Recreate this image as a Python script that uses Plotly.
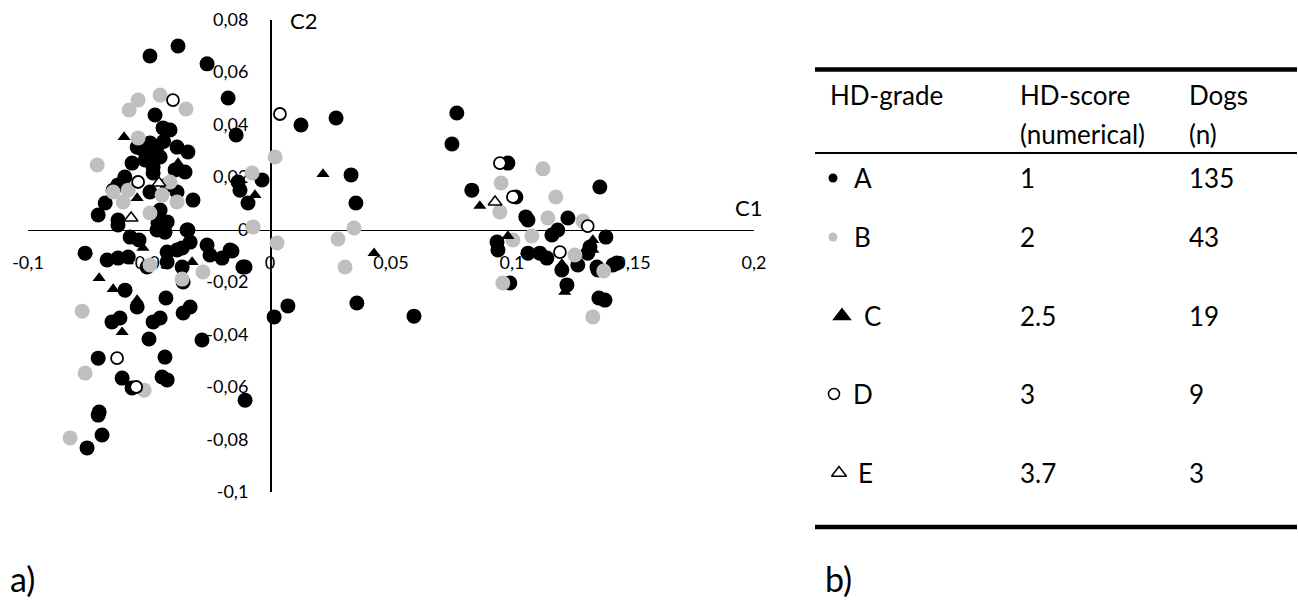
import plotly.graph_objects as go

W, H = 1298, 608
FONT = "Lato"

# ---------------- scatter data (C1, C2) ----------------
a_x = [-0.0496, -0.0380, -0.0260, -0.0173, -0.0140, -0.0475, -0.0442, -0.0413,
       -0.0549, -0.0496, -0.0467, -0.0384, -0.0339, -0.0454, -0.0487, -0.0570,
       -0.0483, -0.0392, -0.0351, -0.0483, -0.0628, -0.0648, -0.0496, -0.0384,
       -0.0318, -0.0681, -0.0710, -0.0628, -0.0454, -0.0463, -0.0425, -0.0339,
       -0.0628, -0.0537, -0.0132, -0.0124, -0.0091, -0.0033, 0.0128, 0.0273,
       0.0335, 0.0355, 0.0772, 0.0752,
       -0.0578, -0.0541, -0.0467, -0.0434, -0.0343, -0.0330, -0.0363, -0.0764,
       -0.0673, -0.0628, -0.0586, -0.0508, -0.0425, -0.0425, -0.0384, -0.0260,
       -0.0248, -0.0198, -0.0165, -0.0112, -0.0363, -0.0359, -0.0157, -0.0103,
       -0.0599, -0.0430, -0.0549, -0.0330, -0.0359, -0.0653, -0.0620, -0.0454,
       -0.0483, -0.0500, -0.0281, -0.0710, -0.0434, -0.0611, -0.0446, -0.0425,
       -0.0570, -0.0103, -0.0706, -0.0710, -0.0694, -0.0756,
       0.0074, 0.0017, 0.0359, 0.0595,
       0.0983, 0.1363, 0.0834, 0.1016, 0.1057, 0.1066, 0.1231, 0.1189,
       0.1165, 0.1388, 0.0938, 0.0942, 0.1066, 0.1115, 0.1144, 0.1322,
       0.1313, 0.1272, 0.1206, 0.1351, 0.1355, 0.1417, 0.1433, 0.0991,
       0.1227, 0.1359, 0.1384,
       -0.0516, -0.0425, -0.0520, -0.0440, -0.0600]
a_y = [0.0661, 0.0699, 0.0631, 0.0501, 0.0360, 0.0436, 0.0387, 0.0379,
       0.0314, 0.0330, 0.0314, 0.0314, 0.0295, 0.0276, 0.0284, 0.0253,
       0.0238, 0.0227, 0.0219, 0.0215, 0.0170, 0.0150, 0.0143, 0.0143,
       0.0112, 0.0101, 0.0055, 0.0036, 0.0074, 0.0025, 0.0029, -0.0002,
       0.0017, 0.0311, 0.0181, 0.0150, 0.0101, 0.0189, 0.0398, 0.0425,
       0.0208, 0.0101, 0.0444, 0.0326,
       -0.0029, -0.0040, -0.0002, -0.0010, -0.0002, -0.0048, -0.0070, -0.0090,
       -0.0116, -0.0109, -0.0105, -0.0143, -0.0086, -0.0124, -0.0078, -0.0059,
       -0.0097, -0.0109, -0.0078, -0.0143, -0.0143, -0.0200, -0.0082, -0.0143,
       -0.0231, -0.0261, -0.0295, -0.0295, -0.0318, -0.0352, -0.0337, -0.0337,
       -0.0352, -0.0417, -0.0421, -0.0490, -0.0486, -0.0566, -0.0562, -0.0573,
       -0.0604, -0.0650, -0.0695, -0.0707, -0.0783, -0.0832,
       -0.0291, -0.0333, -0.0280, -0.0330,
       0.0253, 0.0162, 0.0150, 0.0124, 0.0048, 0.0036, 0.0044, -0.0002,
       -0.0021, -0.0029, -0.0048, -0.0078, -0.0090, -0.0090, -0.0109, -0.0067,
       -0.0090, -0.0135, -0.0154, -0.0143, -0.0154, -0.0135, -0.0128, -0.0204,
       -0.0211, -0.0261, -0.0269,
       0.0265, 0.0170, 0.0300, 0.0335, 0.0200]

b_x = [-0.0545, -0.0454, -0.0582, -0.0347, -0.0545, -0.0714, -0.0413, -0.0648,
       -0.0586, -0.0446, -0.0384, -0.0607, -0.0496, -0.0070, -0.0074, 0.0021,
       0.0347, 0.0029, 0.0281, 0.0310, -0.0496, -0.0277, -0.0363, -0.0776,
       -0.0764, -0.0520, -0.0826,
       0.1128, 0.0955, 0.1181, 0.0950, 0.1148, 0.1293, 0.1082, 0.1004,
       0.1260, 0.1379, 0.0962, 0.1334]
b_y = [0.0493, 0.0512, 0.0455, 0.0459, 0.0349, 0.0246, 0.0181, 0.0143,
       0.0150, 0.0131, 0.0105, 0.0105, 0.0063, 0.0010, 0.0215, 0.0276,
       0.0006, -0.0051, -0.0036, -0.0143, -0.0135, -0.0162, -0.0189, -0.0311,
       -0.0547, -0.0612, -0.0794,
       0.0231, 0.0177, 0.0124, 0.0067, 0.0044, 0.0032, -0.0025, -0.0040,
       -0.0097, -0.0158, -0.0204, -0.0333]

c_x = [-0.0603, -0.0380, -0.0549, -0.0062, 0.0219, 0.0430, -0.0525, -0.0322,
       -0.0706, -0.0648, -0.0549, -0.0611, 0.0867, 0.0983, 0.1206, 0.1218,
       0.1334, 0.1334]
c_y = [0.0352, 0.0253, 0.0120, 0.0131, 0.0211, -0.0090, -0.0070, -0.0124,
       -0.0185, -0.0227, -0.0269, -0.0391, 0.0090, -0.0025, -0.0131, -0.0238,
       -0.0040, -0.0078]

d_x = [-0.0401, 0.0041, -0.0545, -0.0632, -0.0553, 0.0950, 0.1004, 0.1313, 0.1198]
d_y = [0.0493, 0.0440, 0.0181, -0.0490, -0.0600, 0.0253, 0.0124, 0.0013, -0.0086]

e_x = [-0.0459, -0.0574, 0.0930]
e_y = [0.0177, 0.0044, 0.0105]

# ---------------- axis ticks ----------------
x_ticks = [-0.1, -0.05, 0, 0.05, 0.1, 0.15, 0.2]
x_tick_text = ["-0,1", "-0,05", "0", "0,05", "0,1", "0,15", "0,2"]
y_ticks = [-0.1, -0.08, -0.06, -0.04, -0.02, 0, 0.02, 0.04, 0.06, 0.08]
y_tick_text = ["-0,1", "-0,08", "-0,06", "-0,04", "-0,02", "0", "0,02", "0,04", "0,06", "0,08"]

# ---------------- table ----------------
grades = ["A", "B", "C", "D", "E"]
scores = ["1", "2", "2.5", "3", "3.7"]
dogs = ["135", "43", "19", "9", "3"]

GRAY = "#BFBFBF"

# layout geometry (pixels)
X_RANGE = [-0.1, 0.2]
Y_RANGE = [-0.1, 0.08]
plot_l, plot_r = 28, 754
plot_t, plot_b = 19.5, 492
xdom = [plot_l / W, plot_r / W]
ydom = [1 - plot_b / H, 1 - plot_t / H]
x_pos = ydom[0] + (ydom[1] - ydom[0]) * (0 - Y_RANGE[0]) / (Y_RANGE[1] - Y_RANGE[0])
y_pos = xdom[0] + (xdom[1] - xdom[0]) * (0 - X_RANGE[0]) / (X_RANGE[1] - X_RANGE[0])


def px(x):
    return x / W


def py(y):
    return 1 - y / H


fig = go.Figure()

fig.add_trace(go.Scatter(x=a_x, y=a_y, mode="markers", name="A",
                         marker=dict(symbol="circle", size=15, color="black")))
fig.add_trace(go.Scatter(x=b_x, y=b_y, mode="markers", name="B",
                         marker=dict(symbol="circle", size=15, color=GRAY)))
fig.add_trace(go.Scatter(x=c_x, y=c_y, mode="markers", name="C",
                         marker=dict(symbol="triangle-up", size=11.5, color="black")))
fig.add_trace(go.Scatter(x=d_x, y=d_y, mode="markers", name="D",
                         marker=dict(symbol="circle", size=12, color="white",
                                     line=dict(color="black", width=1.8))))
fig.add_trace(go.Scatter(x=e_x, y=e_y, mode="markers", name="E",
                         marker=dict(symbol="triangle-up", size=12, color="white",
                                     line=dict(color="black", width=1.5))))

# table symbols on a pixel-space overlay axis
row_y = [178, 237, 316, 394, 473]
sym_x = [833, 833, 842, 834, 839]
sym_style = [
    dict(symbol="circle", size=9, color="black"),
    dict(symbol="circle", size=9, color=GRAY),
    dict(symbol="triangle-up", size=17, color="black"),
    dict(symbol="circle", size=11, color="white", line=dict(color="black", width=1.5)),
    dict(symbol="triangle-up", size=13, color="white", line=dict(color="black", width=1.5)),
]
for i in range(len(grades)):
    fig.add_trace(go.Scatter(x=[sym_x[i]], y=[row_y[i]], mode="markers",
                             xaxis="x2", yaxis="y2", marker=sym_style[i],
                             hoverinfo="skip"))

tick_font = dict(family=FONT, size=18, color="black")
fig.update_layout(
    width=W, height=H,
    margin=dict(l=0, r=0, t=0, b=0, pad=0, autoexpand=False),
    paper_bgcolor="white", plot_bgcolor="rgba(0,0,0,0)",
    showlegend=False,
    font=dict(family=FONT, color="black"),
    xaxis=dict(domain=xdom, range=X_RANGE, anchor="free", position=x_pos,
               showline=True, linecolor="black", linewidth=1.5,
               showgrid=False, zeroline=False, ticks="", automargin=False,
               tickvals=x_ticks, ticktext=x_tick_text, tickfont=tick_font,
               ticklabelstandoff=16, layer="below traces", fixedrange=True),
    yaxis=dict(domain=ydom, range=Y_RANGE, anchor="free", position=y_pos,
               showline=True, linecolor="black", linewidth=1.5,
               showgrid=False, zeroline=False, ticks="", automargin=False,
               tickvals=y_ticks, ticktext=y_tick_text, tickfont=tick_font,
               ticklabelstandoff=18, layer="below traces", fixedrange=True),
    xaxis2=dict(domain=[0, 1], range=[0, W], visible=False, anchor="y2",
                automargin=False, fixedrange=True),
    yaxis2=dict(domain=[0, 1], range=[H, 0], visible=False, anchor="x2",
                automargin=False, fixedrange=True),
)

anns = []
# axis titles
anns.append(dict(x=px(748), y=py(208), xref="paper", yref="paper", text="C1",
                 showarrow=False, font=dict(size=22), xanchor="center", yanchor="middle"))
anns.append(dict(x=px(303), y=py(20), xref="paper", yref="paper", text="C2",
                 showarrow=False, font=dict(size=22), xanchor="center", yanchor="middle"))
# panel labels
anns.append(dict(x=px(8), y=py(578), xref="paper", yref="paper", text="a)",
                 showarrow=False, font=dict(size=34), xanchor="left", yanchor="middle"))
anns.append(dict(x=px(823), y=py(578), xref="paper", yref="paper", text="b)",
                 showarrow=False, font=dict(size=34), xanchor="left", yanchor="middle"))

TF = 26
col1, col2, col3 = 828, 1018, 1187
header = [(col1, 95, "HD-grade"), (col2, 95, "HD-score"), (col2, 134, "(numerical)"),
          (col3, 95, "Dogs"), (col3, 134, "(n)")]
for x, y, t in header:
    anns.append(dict(x=px(x), y=py(y), xref="paper", yref="paper", text=t,
                     showarrow=False, font=dict(size=TF), xanchor="left", yanchor="middle"))
letter_x = [852, 852, 862, 851, 856]
for i in range(len(grades)):
    anns.append(dict(x=px(letter_x[i]), y=py(row_y[i]), xref="paper", yref="paper",
                     text=grades[i], showarrow=False, font=dict(size=TF),
                     xanchor="left", yanchor="middle"))
    anns.append(dict(x=px(col2), y=py(row_y[i]), xref="paper", yref="paper",
                     text=scores[i], showarrow=False, font=dict(size=TF),
                     xanchor="left", yanchor="middle"))
    anns.append(dict(x=px(col3), y=py(row_y[i]), xref="paper", yref="paper",
                     text=dogs[i], showarrow=False, font=dict(size=TF),
                     xanchor="left", yanchor="middle"))
fig.update_layout(annotations=anns)

# table rules
for y, w in [(69.5, 4.5), (153, 2), (527, 4.5)]:
    fig.add_shape(type="line", xref="paper", yref="paper",
                  x0=px(815), x1=px(1297), y0=py(y), y1=py(y),
                  line=dict(color="black", width=w))

fig.write_html("out.html",
               config={"displayModeBar": False, "staticPlot": True},
               post_script="document.body.style.margin='0';"
                           "document.body.style.overflow='hidden';")
